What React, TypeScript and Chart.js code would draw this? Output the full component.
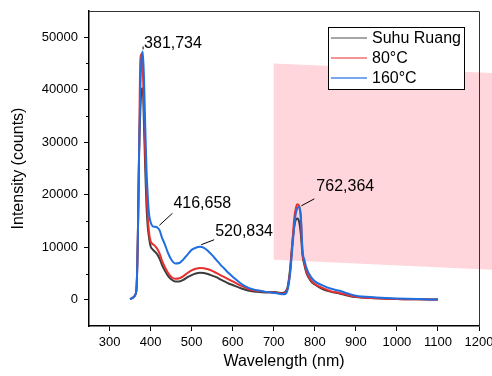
import React, { useEffect, useRef } from 'react';
import { Chart, registerables } from 'chart.js';

Chart.register(...registerables);

const WAVELENGTH = [350, 355, 360, 363, 366, 369, 372, 375, 378, 381, 384, 387, 390, 393, 396, 400, 405, 410, 416, 422, 428, 435, 442, 450, 460, 470, 480, 490, 500, 510, 520, 530, 540, 550, 560, 570, 580, 590, 600, 620, 640, 660, 680, 700, 710, 720, 728, 734, 740, 745, 750, 754, 758, 762, 766, 770, 775, 780, 790, 800, 820, 840, 860, 880, 900, 950, 1000, 1050, 1100];

const SUHU_RUANG = [100, 300, 600, 1000, 2500, 12000, 28000, 36000, 40000, 40300, 33000, 25000, 18000, 14000, 12000, 10200, 9600, 9200, 8700, 7800, 6600, 5500, 4600, 3900, 3500, 3500, 3800, 4300, 4700, 5000, 5150, 5100, 4900, 4600, 4300, 3900, 3500, 3100, 2800, 2200, 1700, 1500, 1400, 1500, 1400, 1300, 1500, 2500, 6000, 10500, 14000, 15300, 15500, 14800, 12500, 8600, 6500, 5000, 3600, 2900, 2000, 1500, 1200, 800, 500, 300, 150, 80, 30];

const C80 = [100, 300, 600, 1000, 2500, 12000, 28000, 45500, 46800, 44000, 36000, 28000, 21000, 16000, 13000, 11200, 10600, 10300, 9700, 8800, 7400, 6200, 5200, 4400, 4000, 4100, 4500, 5100, 5600, 5900, 6050, 6000, 5800, 5500, 5100, 4700, 4300, 3900, 3500, 2700, 2000, 1700, 1500, 1400, 1300, 1150, 1300, 2200, 5500, 10500, 15500, 17500, 18200, 17800, 15500, 9000, 6900, 5300, 3800, 3000, 2200, 1600, 1300, 900, 550, 300, 150, 80, 30];

const C160 = [100, 300, 600, 1000, 2500, 12000, 28000, 40000, 46000, 47300, 42000, 33000, 25000, 20000, 16500, 14800, 14000, 13900, 13800, 13200, 11800, 10500, 9000, 7700, 6900, 7000, 7700, 8600, 9500, 9900, 10100, 9900, 9300, 8500, 7600, 6700, 5900, 5100, 4400, 3100, 2200, 1800, 1500, 1300, 1200, 1050, 1100, 2000, 5000, 9500, 14000, 16500, 17500, 17700, 16000, 9500, 7500, 6000, 4400, 3500, 2700, 2100, 1700, 1200, 750, 450, 250, 120, 50];

const SERIES_LABELS = ['Suhu Ruang', '80°C', '160°C'];
const SERIES_COLORS = ['#3c3c3c', '#e8302e', '#1f6fe0'];
const LEGEND_COLORS = ['#888888', '#f07070', '#4a8ae8'];

const X_TICKS = [300, 400, 500, 600, 700, 800, 900, 1000, 1100, 1200];
const Y_TICKS = [0, 10000, 20000, 30000, 40000, 50000];
const Y_MINOR = [5000, 15000, 25000, 35000, 45000];

const PEAK_TEXT = ['381,734', '416,658', '520,834', '762,364'];
const PEAK_X = [381.734, 416.658, 520.834, 762.364];
const PEAK_Y = [47300, 13800, 10100, 17700];

const SHADE_X = [700, 1260, 1260, 700];
const SHADE_Y = [45000, 43100, 5600, 7600];

const FONT = '"Liberation Sans", Arial, Helvetica, sans-serif';

// pixel offsets of leader end / text from the peak anchor
const LABEL_LAYOUT = [
  { lx0: 0, ly0: -2, lx1: 0, ly1: -5, tx: 1, ty: -8 },
  { lx0: 2, ly0: -2, lx1: 15, ly1: -14, tx: 16, ty: -24 },
  { lx0: 1, ly0: -2, lx1: 14, ly1: -7, tx: 15, ty: -15 },
  { lx0: 2, ly0: -1, lx1: 15, ly1: -8, tx: 17, ty: -20 },
];

const decor = {
  id: 'decor',
  beforeDatasetsDraw(chart: any) {
    const { ctx, scales, chartArea } = chart;
    const x = scales.x;
    const y = scales.y;
    ctx.save();
    ctx.fillStyle = '#ffd6dc';
    ctx.beginPath();
    SHADE_X.forEach((v, i) => {
      const px = x.getPixelForValue(v);
      const py = y.getPixelForValue(SHADE_Y[i]);
      if (i === 0) ctx.moveTo(px, py);
      else ctx.lineTo(px, py);
    });
    ctx.closePath();
    ctx.fill();
    ctx.strokeStyle = '#000';
    ctx.lineWidth = 1;
    Y_MINOR.forEach((v) => {
      const py = Math.round(y.getPixelForValue(v)) + 0.5;
      ctx.beginPath();
      ctx.moveTo(chartArea.left - 3, py);
      ctx.lineTo(chartArea.left, py);
      ctx.stroke();
    });
    ctx.restore();
  },
  afterDatasetsDraw(chart: any) {
    const { ctx, scales, chartArea } = chart;
    const x = scales.x;
    const y = scales.y;
    ctx.save();
    ctx.strokeStyle = '#333';
    ctx.lineWidth = 1;
    ctx.beginPath();
    ctx.moveTo(chartArea.left, Math.round(chartArea.top) + 0.5);
    ctx.lineTo(Math.round(chartArea.right) + 0.5, Math.round(chartArea.top) + 0.5);
    ctx.lineTo(Math.round(chartArea.right) + 0.5, chartArea.bottom);
    ctx.stroke();
    ctx.font = `16px ${FONT}`;
    ctx.fillStyle = '#000';
    ctx.textBaseline = 'middle';
    ctx.textAlign = 'left';
    PEAK_TEXT.forEach((t, i) => {
      const ax = x.getPixelForValue(PEAK_X[i]);
      const ay = y.getPixelForValue(PEAK_Y[i]);
      const L = LABEL_LAYOUT[i];
      ctx.strokeStyle = '#000';
      ctx.lineWidth = 1;
      ctx.beginPath();
      ctx.moveTo(ax + L.lx0, ay + L.ly0);
      ctx.lineTo(ax + L.lx1, ay + L.ly1);
      ctx.stroke();
      ctx.fillText(t, ax + L.tx, ay + L.ty);
    });
    ctx.restore();
  },
  afterDraw(chart: any) {
    const { ctx, chartArea } = chart;
    ctx.save();
    const bx = chartArea.right - 151;
    const by = chartArea.top + 16;
    const bw = 136;
    const bh = 62;
    ctx.fillStyle = '#fff';
    ctx.fillRect(bx, by, bw, bh);
    ctx.strokeStyle = '#000';
    ctx.lineWidth = 1;
    ctx.strokeRect(Math.round(bx) + 0.5, Math.round(by) + 0.5, bw, bh);
    ctx.font = `16px ${FONT}`;
    ctx.textBaseline = 'middle';
    ctx.textAlign = 'left';
    SERIES_LABELS.forEach((lab, i) => {
      const ry = by + 11 + i * 20;
      ctx.strokeStyle = LEGEND_COLORS[i];
      ctx.lineWidth = 1.5;
      ctx.beginPath();
      ctx.moveTo(bx + 3, ry);
      ctx.lineTo(bx + 39, ry);
      ctx.stroke();
      ctx.fillStyle = '#000';
      ctx.fillText(lab, bx + 44, ry + 1);
    });
    ctx.restore();
  },
};

export default function App() {
  const ref = useRef<HTMLCanvasElement>(null);
  useEffect(() => {
    document.body.style.margin = '0';
    const canvas = ref.current;
    if (!canvas) return;
    const seriesData = [SUHU_RUANG, C80, C160];
    const chart = new Chart(canvas, {
      type: 'line',
      data: {
        datasets: seriesData.map((arr, i) => ({
          label: SERIES_LABELS[i],
          data: WAVELENGTH.map((w, j) => ({ x: w, y: arr[j] })),
          borderColor: SERIES_COLORS[i],
          borderWidth: 2,
          pointRadius: 0,
          cubicInterpolationMode: 'monotone',
          fill: false,
          order: 2 - i,
        })),
      },
      options: {
        animation: false,
        responsive: false,
        devicePixelRatio: 1,
        layout: { padding: { top: 11, right: 13, left: 0, bottom: 0 } },
        plugins: { legend: { display: false }, tooltip: { enabled: false } },
        scales: {
          x: {
            type: 'linear',
            min: 250,
            max: 1200,
            afterBuildTicks: (s: any) => {
              s.ticks = X_TICKS.map((v) => ({ value: v }));
            },
            afterFit: (s: any) => {
              s.height = 50;
              s.paddingLeft = 0;
              s.paddingRight = 0;
            },
            grid: { drawOnChartArea: false, tickLength: 5, color: '#000', tickColor: '#000' },
            border: { display: true, color: '#000', width: 1.5 },
            ticks: { color: '#000', font: { family: FONT, size: 13 }, padding: 4, maxRotation: 0, autoSkip: false, callback: (v: any) => String(v) },
            title: { display: true, text: 'Wavelength (nm)', color: '#000', font: { family: FONT, size: 16 }, padding: { top: 0, bottom: 5 } },
          },
          y: {
            type: 'linear',
            min: -5000,
            max: 55000,
            afterBuildTicks: (s: any) => {
              s.ticks = Y_TICKS.map((v) => ({ value: v }));
            },
            afterFit: (s: any) => {
              s.width = 89;
              s.paddingTop = 0;
              s.paddingBottom = 0;
            },
            grid: { drawOnChartArea: false, tickLength: 5, color: '#000', tickColor: '#000' },
            border: { display: true, color: '#000', width: 1.5 },
            ticks: { color: '#000', font: { family: FONT, size: 13 }, padding: 6, autoSkip: false, callback: (v: any) => String(v) },
            title: { display: true, text: 'Intensity (counts)', color: '#000', font: { family: FONT, size: 16 }, padding: { top: 9, bottom: 0 } },
          },
        },
      },
      plugins: [decor],
    });
    return () => chart.destroy();
  }, []);
  return (
    <div style={{ width: 492, height: 376 }}>
      <canvas ref={ref} width={492} height={376} />
    </div>
  );
}
